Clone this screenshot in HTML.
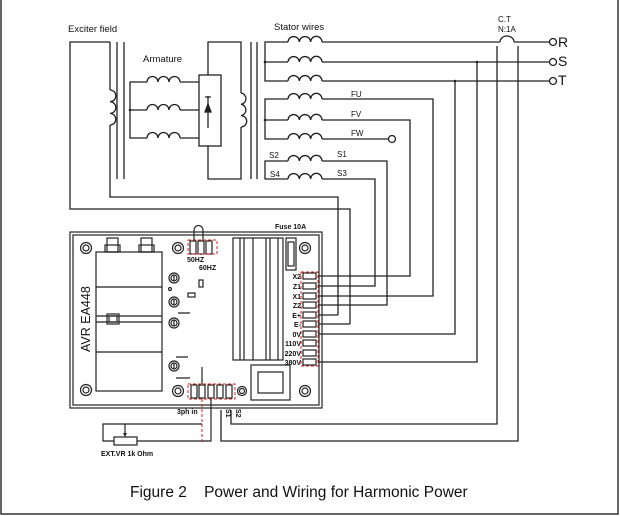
<!DOCTYPE html>
<html><head><style>
html,body{margin:0;padding:0;background:#fff;}
svg{display:block;}
text{font-family:"Liberation Sans",sans-serif;fill:#111;}
</style></head><body>
<svg width="620" height="516" viewBox="0 0 620 516" xmlns="http://www.w3.org/2000/svg">
<rect x="1" y="-2" width="617" height="516" fill="none" stroke="#333" stroke-width="1.5"/>
<g fill="none" stroke="#222" stroke-width="1.3">
<!-- exciter -->
<path d="M110,42 H70 V209 H350 V324"/>
<path d="M110,42 V90 M110,125 V197 H338 V315"/>
<path d="M110,90 a5.8,5.8 0 0 1 0,11.7 a5.8,5.8 0 0 1 0,11.7 a5.8,5.8 0 0 1 0,11.6"/>
<path d="M117,42 V179 M124,42 V179 M251,42 V179 M257,42 V179"/>
<!-- armature -->
<path d="M199,82 H180 M147,82 H130 V138 H147 M130,110 H147 M180,110 H199 M180,138 H199"/>
<path d="M147,82 a5.5,5.5 0 0 1 11,0 a5.5,5.5 0 0 1 11,0 a5.5,5.5 0 0 1 11,0"/>
<path d="M147,110 a5.5,5.5 0 0 1 11,0 a5.5,5.5 0 0 1 11,0 a5.5,5.5 0 0 1 11,0"/>
<path d="M147,138 a5.5,5.5 0 0 1 11,0 a5.5,5.5 0 0 1 11,0 a5.5,5.5 0 0 1 11,0"/>
<path d="M208,75 V42 H241 V93 M241,127 V179 H208 V146"/>
<path d="M241,93 a5.7,5.7 0 0 1 0,11.3 a5.7,5.7 0 0 1 0,11.3 a5.7,5.7 0 0 1 0,11.4"/>
<rect x="199" y="75" width="22" height="71" fill="#fff"/>
<path d="M208,96 V128 M205,97 H211"/>
<path d="M208,104 l-3,8 h6 z" fill="#222"/>
<!-- stator -->
<path d="M288,42 H265 V81 H288 M265,62 H288 M322,42 H500 M514,42 H549 M322,62 H549 M322,81 H549"/>
<path d="M500,42 a7,6 0 0 1 14,0"/>
<path d="M497,46 V424 H231 V410 M518,46 V441 H221 V410"/>
<path d="M477,62 V362 H318 M455,81 V334 H318"/>
<path d="M288,99 H265 V139 H288 M265,120 H288 M322,99 H433 V296 H318 M322,120 H410 V276 H318 M322,139 H388"/>
<path d="M288,161 H265 V179 H288 M322,161 H387 V305 H318 M322,179 H375 V286 H318"/>
<path d="M350,324 H318 M338,315 H318"/>
<g id="c">
<path d="M288,42 a5.67,5.67 0 0 1 11.33,0 a5.67,5.67 0 0 1 11.33,0 a5.67,5.67 0 0 1 11.34,0"/>
</g>
<use href="#c" transform="translate(0,20)"/>
<use href="#c" transform="translate(0,39)"/>
<use href="#c" transform="translate(0,57)"/>
<use href="#c" transform="translate(0,78)"/>
<use href="#c" transform="translate(0,97)"/>
<use href="#c" transform="translate(0,119)"/>
<use href="#c" transform="translate(0,137)"/>
<circle cx="553" cy="42" r="3.5" fill="#fff"/>
<circle cx="553" cy="62" r="3.5" fill="#fff"/>
<circle cx="553" cy="81" r="3.5" fill="#fff"/>
<circle cx="392" cy="139" r="3.5" fill="#fff"/>
</g>
<g fill="#222">
<circle cx="477" cy="62" r="1.3"/><circle cx="455" cy="81" r="1.3"/>
<circle cx="265" cy="62" r="1.3"/><circle cx="265" cy="120" r="1.3"/><circle cx="130" cy="110" r="1.3"/>
</g>
<!-- AVR board -->
<g fill="none" stroke="#222" stroke-width="1.2">
<rect x="70" y="232" width="252" height="176"/>
<rect x="73" y="235" width="246" height="170"/>
<rect x="96" y="252" width="66" height="139"/>
<path d="M96,287 H162 M96,316 H162 M96,322 H162 M96,352 H162"/>
<rect x="107" y="314" width="12" height="10"/><rect x="109" y="316" width="8" height="6"/>
<rect x="107" y="238" width="11" height="14"/><rect x="105" y="245" width="15" height="7"/>
<rect x="141" y="238" width="11" height="14"/><rect x="139" y="245" width="15" height="7"/>
<g id="s"><circle cx="86" cy="248" r="5.5"/><circle cx="86" cy="248" r="3"/></g>
<use href="#s" transform="translate(92,0)"/>
<use href="#s" transform="translate(219,0)"/>
<use href="#s" transform="translate(0,142)"/>
<use href="#s" transform="translate(92,143)"/>
<use href="#s" transform="translate(219,143)"/>
<circle cx="242" cy="391" r="4.5"/><circle cx="242" cy="391" r="2.5"/>
<g id="m"><circle cx="174" cy="278" r="5"/><circle cx="174" cy="278" r="3"/><path d="M174,275 V281"/></g>
<use href="#m" transform="translate(0,24)"/>
<use href="#m" transform="translate(0,45)"/>
<use href="#m" transform="translate(0,88)"/>
<circle cx="170" cy="289" r="1.5"/>
<rect x="199" y="280" width="4" height="7"/>
<rect x="188" y="293" width="7" height="4"/>
<path d="M178,313 H190 M176,357 H188 M176,378 H190 M202,367 V384"/>
<rect x="190" y="241" width="6" height="13"/><rect x="198" y="241" width="6" height="13"/><rect x="206" y="241" width="6" height="13"/>
<path d="M194,241 V230 a4.5,4.5 0 0 1 9,0 V241"/>
<rect x="233" y="238" width="50" height="122"/>
<path d="M240,238 V360 M244,238 V360 M253,238 V360 M266,238 V360 M270,238 V360 M278,238 V360"/>
<rect x="286" y="238" width="10" height="32"/><rect x="288" y="242" width="6" height="24"/>
<rect x="251" y="365" width="39" height="35"/><rect x="258" y="372" width="25" height="21"/>
<rect x="191" y="385" width="6" height="13"/><rect x="199" y="385" width="6" height="13"/><rect x="208" y="385" width="6" height="13"/><rect x="217" y="385" width="6" height="13"/><rect x="226" y="385" width="6" height="13"/>
<path d="M211,398 V441 H137 M114,441 H103 V424 H202"/>
<rect x="114" y="437" width="23" height="8"/>
<path d="M125,424 V434"/>
</g>
<path d="M125,437 l-2,-4 h4 z" fill="#222"/>
<g fill="none" stroke="#222" stroke-width="1.2">
<rect x="303" y="273" width="13" height="6"/><rect x="303" y="283" width="13" height="6"/><rect x="303" y="293" width="13" height="6"/><rect x="303" y="302" width="13" height="6"/><rect x="303" y="312" width="13" height="6"/><rect x="303" y="321" width="13" height="6"/><rect x="303" y="331" width="13" height="6"/><rect x="303" y="340" width="13" height="6"/><rect x="303" y="350" width="13" height="6"/><rect x="303" y="359" width="13" height="6"/>
</g>
<g fill="none" stroke="#d22" stroke-width="1" stroke-dasharray="3,2">
<rect x="301" y="272" width="17" height="94"/>
<rect x="188" y="240" width="29" height="14"/>
<rect x="188" y="384" width="47" height="15"/>
<path d="M202,399 V442"/>
</g>
<g font-size="9.5">
<text x="68" y="32">Exciter field</text>
<text x="143" y="62">Armature</text>
<text x="274" y="30">Stator wires</text>
<text x="498" y="22" font-size="8">C.T</text>
<text x="498" y="32" font-size="8">N:1A</text>
<text x="351" y="97" font-size="8">FU</text>
<text x="351" y="117" font-size="8">FV</text>
<text x="351" y="136" font-size="8">FW</text>
<text x="269" y="158" font-size="8">S2</text>
<text x="270" y="177" font-size="8">S4</text>
<text x="337" y="157" font-size="8">S1</text>
<text x="337" y="176" font-size="8">S3</text>
</g>
<text x="558" y="47" font-size="14">R</text>
<text x="558" y="66" font-size="14">S</text>
<text x="558" y="85" font-size="14">T</text>
<g font-size="7" font-weight="bold" text-anchor="end">
<text x="301" y="279">X2</text><text x="301" y="289">Z1</text><text x="301" y="299">X1</text><text x="301" y="308">Z2</text><text x="301" y="318">E+</text><text x="301" y="327">E-</text><text x="301" y="337">0V</text><text x="301" y="346">110V</text><text x="301" y="356">220V</text><text x="301" y="365">380V</text>
</g>
<g font-size="7" font-weight="bold">
<text x="275" y="229">Fuse  10A</text>
<text x="187" y="262">50HZ</text>
<text x="199" y="270">60HZ</text>
<text x="177" y="414">3ph in</text>
<text x="101" y="456">EXT.VR  1k Ohm</text>
<text transform="translate(226,409) rotate(90)">S1</text>
<text transform="translate(236,409) rotate(90)">S2</text>
</g>
<text transform="translate(90,352) rotate(-90)" font-size="12.5">AVR  EA448</text>
<text x="130" y="497" font-size="15.5" style="white-space:pre" xml:space="preserve">Figure 2    Power and Wiring for Harmonic Power</text>
</svg>
</body></html>
